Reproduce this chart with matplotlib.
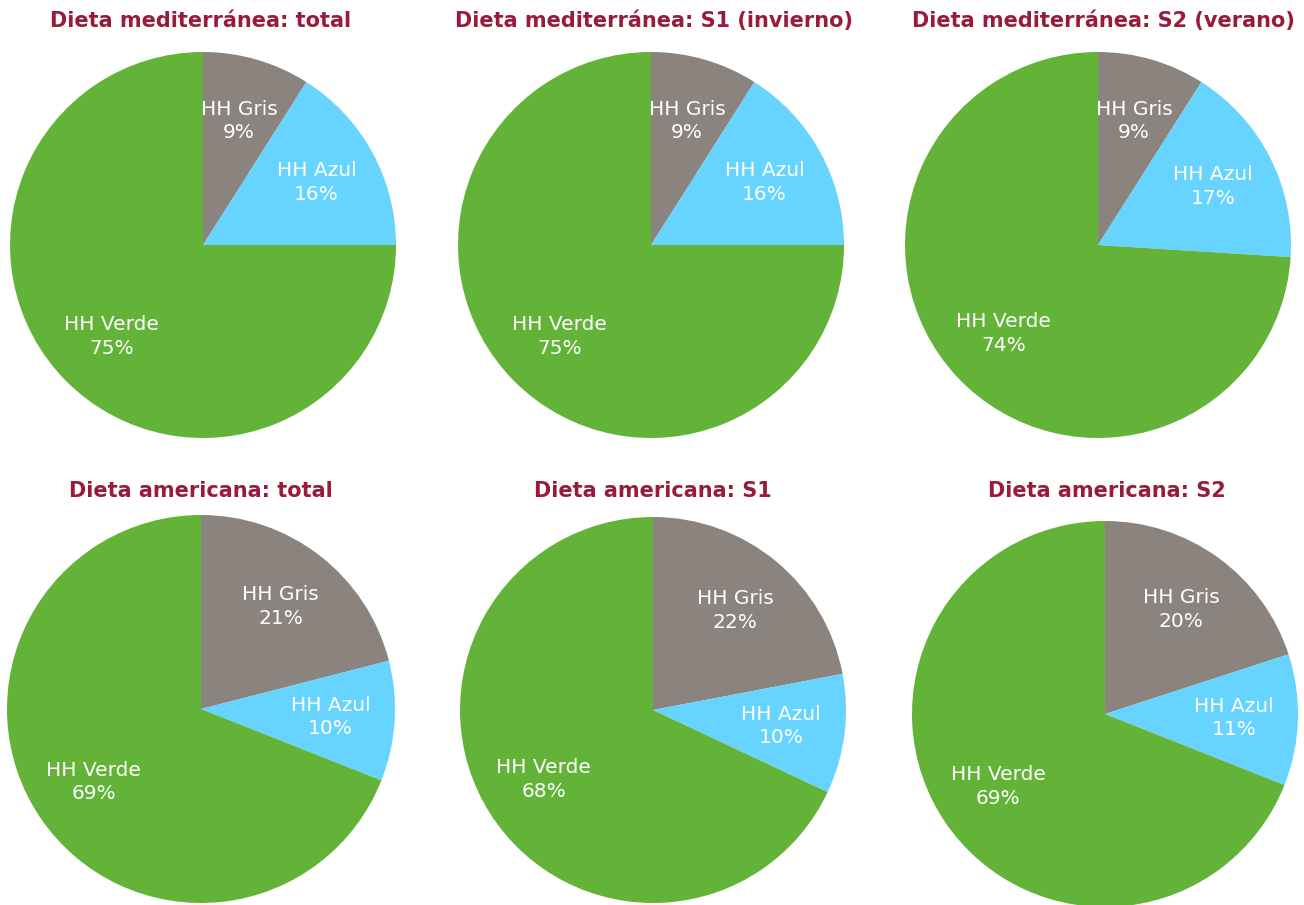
import matplotlib.pyplot as plt

# Huella hídrica shares per diet (Gris, Azul, Verde), in %
NAMES = ["HH Gris", "HH Azul", "HH Verde"]
COLORS = ["#8a837e", "#66d4fe", "#62b338"]

TITLES = [
    "Dieta mediterránea: total",
    "Dieta mediterránea: S1 (invierno)",
    "Dieta mediterránea: S2 (verano)",
    "Dieta americana: total",
    "Dieta americana: S1",
    "Dieta americana: S2",
]
GRIS = [9, 9, 9, 21, 22, 20]
AZUL = [16, 16, 17, 10, 10, 11]
VERDE = [75, 75, 74, 69, 68, 69]

# pie centres / radius and title positions in pixels (from top-left)
CENTERS = [(203, 245), (651, 245), (1098, 245), (201, 709), (653, 710), (1105, 714)]
RADII = [193, 193, 193, 194, 193, 193]
TITLE_POS = [(201, 21), (654, 21), (1103, 21), (201, 491), (653, 491), (1107, 491)]

W, H = 1304, 905
TITLE_COLOR = "#9a1a3c"

plt.rcParams['font.family'] = ['DejaVu Sans']

fig = plt.figure(figsize=(W / 100, H / 100), dpi=100)

for i in range(6):
    cx, cy = CENTERS[i]
    r = RADII[i]
    ax = fig.add_axes([(cx - r) / W, 1 - (cy + r) / H, 2 * r / W, 2 * r / H])
    vals = [GRIS[i], AZUL[i], VERDE[i]]
    labels = [f"{n}\n{v}%" for n, v in zip(NAMES, vals)]
    wedges, texts = ax.pie(vals, colors=COLORS, startangle=90, counterclock=False,
                           labels=labels, labeldistance=0.67, radius=1,
                           wedgeprops=dict(linewidth=0),
                           textprops=dict(color="white", fontsize=14.5))
    for t in texts:
        t.set_ha("center")
        t.set_va("center")
        t.set_linespacing(1.3)
    ax.set_xlim(-1, 1)
    ax.set_ylim(-1, 1)
    ax.set_aspect("equal")
    ax.axis("off")

    tx, ty = TITLE_POS[i]
    fig.text(tx / W, 1 - ty / H, TITLES[i], ha="center", va="center",
             fontsize=15, fontweight="bold", color=TITLE_COLOR)

fig.savefig("out.png", dpi=100)
